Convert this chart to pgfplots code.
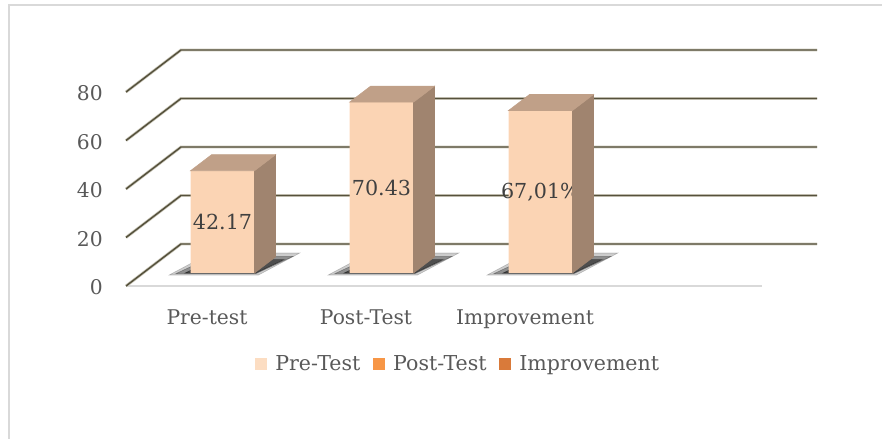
\documentclass[border=0pt]{standalone}
\usepackage{pgfplots}
\pgfplotsset{compat=1.18}
\usepackage{pgfplotstable}
\usepackage{fontspec}
\setmainfont{DejaVu Serif}

\definecolor{barfront}{HTML}{FBD4B4}
\definecolor{barside}{HTML}{A0846F}
\definecolor{bartop}{HTML}{C0A088}
\definecolor{gridc}{HTML}{55513C}
\definecolor{gridhalo}{HTML}{CCC9BC}
\definecolor{floorc}{HTML}{D9D9D9}
\definecolor{txt}{HTML}{595959}
\definecolor{lbl}{HTML}{404040}
\definecolor{legpre}{HTML}{FCDDC2}
\definecolor{legpost}{HTML}{F79646}
\definecolor{legimp}{HTML}{D97A3A}

\pgfdeclareplotmark{nothing}{}

\pgfplotstableread{
x y label
0 42.17 42.17
1 70.43 70.43
2 67.01 {67,01\%}
}\bardata

\begin{document}
\begin{tikzpicture}
\path[use as bounding box] (0,0) rectangle (661.5pt,329.25pt);
% outer frame
\draw[floorc, line width=1.5pt] (6.75pt,0pt) -- (6.75pt,325.5pt) -- (661.5pt,325.5pt);
\begin{axis}[
  at={(107.25pt,124.5pt)}, anchor=south west,
  scale only axis, width=477pt, height=145.5pt,
  xmin=-0.5, xmax=3.5, ymin=0, ymax=80,
  clip=false, clip marker paths=true,
  axis line style={draw=none},
  major tick length=0pt,
  xtick={0,1,2}, xticklabels={Pre-test,Post-Test,Improvement},
  ytick={0,20,...,80},
  every tick label/.append style={font=\fontsize{15.2}{18}\selectfont, text=txt, inner sep=0pt},
  xticklabel style={anchor=base, xshift=-11.6pt, yshift=-38.25pt},
  yticklabel style={anchor=base east, xshift=-30pt, yshift=-16.3pt},
  /pgf/number format/assume math mode=true,
  legend columns=3,
  legend image code/.code={\fill[#1, draw=none] (0pt,-4.3pt) rectangle (8.6pt,4.3pt);},
  legend style={at={(0.4961,-0.469)}, anchor=center, draw=none, fill=none,
    font=\fontsize{15.4}{18}\selectfont, text=txt,
    /tikz/every odd column/.append style={column sep=4.5pt},
    /tikz/every even column/.append style={column sep=7.5pt}},
]
% floor front edge
\draw[floorc, line width=1.5pt] ([shift={(-12.75pt,-9.75pt)}]axis cs:-0.5,0) -- ([shift={(-12.75pt,-9.75pt)}]axis cs:3.5,0);
% gridlines (3D walls)
\pgfplotsinvokeforeach{0,20,40,60,80}{
  \draw[gridhalo, line width=2.2pt] ([shift={(-12.75pt,-9.75pt)}]axis cs:-0.5,#1) -- ([shift={(28.5pt,21.75pt)}]axis cs:-0.5,#1) -- ([shift={(28.5pt,21.75pt)}]axis cs:3.5,#1);
  \draw[gridc, line width=1.1pt] ([shift={(-12.75pt,-9.75pt)}]axis cs:-0.5,#1) -- ([shift={(28.5pt,21.75pt)}]axis cs:-0.5,#1) -- ([shift={(28.5pt,21.75pt)}]axis cs:3.5,#1);
}
% shadows
\addplot[forget plot, only marks, mark=nothing, scatter,
  visualization depends on={y \as \rawy},
  scatter/@pre marker code/.code={%
    \pgfmathsetmacro\H{\rawy*1.81875}%
    \fill[black, opacity=0.2]
      (-40pt,{-\H pt-1.5pt}) -- (27pt,{-\H pt-1.5pt}) -- (58pt,{-\H pt+15pt}) -- (-9pt,{-\H pt+15pt}) -- cycle;
    \fill[black, opacity=0.3]
      (-35pt,{-\H pt-0.5pt}) -- (25pt,{-\H pt-0.5pt}) -- (53pt,{-\H pt+12.5pt}) -- (-7pt,{-\H pt+12.5pt}) -- cycle;
    \fill[black, opacity=0.45]
      (-28pt,{-\H pt}) -- (25pt,{-\H pt}) -- (46pt,{-\H pt+10pt}) -- (-7pt,{-\H pt+10pt}) -- cycle;
  },
  scatter/@post marker code/.code={}]
  table[x=x,y=y] {\bardata};
% front faces with value labels
\addplot[forget plot, ybar, bar width=48pt, fill=barfront, draw=none,
  point meta=explicit symbolic,
  visualization depends on={y \as \rawy},
  nodes near coords,
  nodes near coords style={font=\fontsize{15.5}{18}\selectfont, text=lbl, inner sep=0pt,
    anchor=center, yshift={-\rawy*0.909375pt}}]
  table[x=x,y=y,meta=label] {\bardata};
% side and top faces
\addplot[forget plot, only marks, mark=nothing, scatter,
  visualization depends on={y \as \rawy},
  scatter/@pre marker code/.code={%
    \pgfmathsetmacro\H{\rawy*1.81875}%
    \fill[barside] (24pt,0pt) -- (39.75pt,12pt) -- (39.75pt,{12pt-\H pt}) -- (24pt,{-\H pt}) -- cycle;
    \fill[bartop] (-24pt,0pt) -- (24pt,0pt) -- (39.75pt,12pt) -- (-8.25pt,12pt) -- cycle;
  },
  scatter/@post marker code/.code={}]
  table[x=x,y=y] {\bardata};
\addlegendimage{fill=legpre}
\addlegendentry{Pre-Test}
\addlegendimage{fill=legpost}
\addlegendentry{Post-Test}
\addlegendimage{fill=legimp}
\addlegendentry{Improvement}
\end{axis}
\end{tikzpicture}
\end{document}
